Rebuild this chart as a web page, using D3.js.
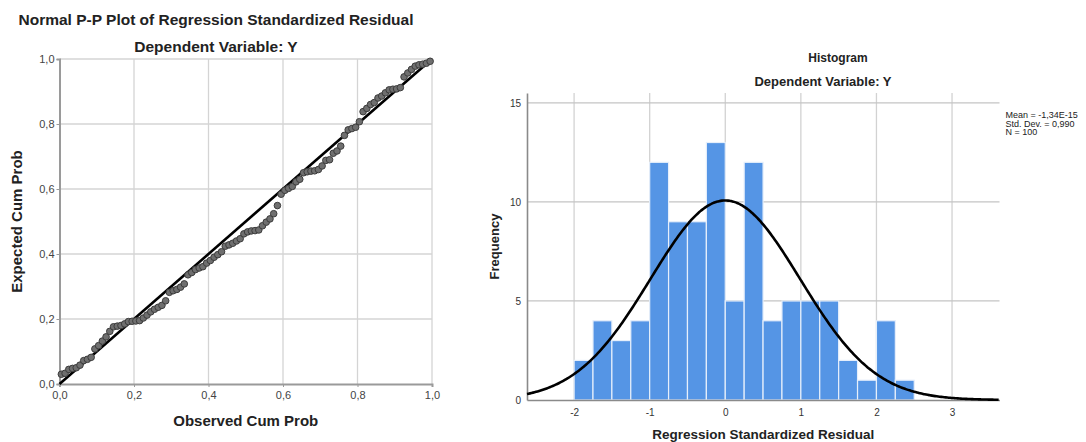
<!DOCTYPE html>
<html>
<head>
<meta charset="utf-8">
<script src="https://cdn.jsdelivr.net/npm/d3@7"></script>
<style>
html,body{margin:0;padding:0;background:#fff;}
svg{display:block;font-family:"Liberation Sans",Arial,sans-serif;}
</style>
</head>
<body>
<svg id="chart" width="1086" height="442"></svg>
<script>
// ---------- P-P plot data ----------
const ppTitle = "Normal P-P Plot of Regression Standardized Residual";
const ppSubtitle = "Dependent Variable: Y";
const ppXLabel = "Observed Cum Prob";
const ppYLabel = "Expected Cum Prob";
const ppTicks = [0, 0.2, 0.4, 0.6, 0.8, 1.0];
const ppTickLabels = ["0,0", "0,2", "0,4", "0,6", "0,8", "1,0"];
const observedCumProb = [
  0.005,0.015,0.025,0.035,0.045,0.055,0.065,0.075,0.085,0.095,
  0.105,0.115,0.125,0.135,0.145,0.155,0.165,0.175,0.185,0.195,
  0.205,0.215,0.225,0.235,0.245,0.255,0.265,0.275,0.285,0.295,
  0.305,0.315,0.325,0.335,0.345,0.355,0.365,0.375,0.385,0.395,
  0.405,0.415,0.425,0.435,0.445,0.455,0.465,0.475,0.485,0.495,
  0.505,0.515,0.525,0.535,0.545,0.555,0.565,0.575,0.585,0.595,
  0.605,0.615,0.625,0.635,0.645,0.655,0.665,0.675,0.685,0.695,
  0.705,0.715,0.725,0.735,0.745,0.755,0.765,0.775,0.785,0.795,
  0.805,0.815,0.825,0.835,0.845,0.855,0.865,0.875,0.885,0.895,
  0.905,0.915,0.925,0.935,0.945,0.955,0.965,0.975,0.985,0.995
];
const expectedCumProb = [
  0.030,0.033,0.045,0.048,0.050,0.058,0.072,0.076,0.082,0.108,
  0.118,0.132,0.145,0.162,0.176,0.178,0.180,0.185,0.192,0.193,
  0.194,0.195,0.203,0.212,0.222,0.230,0.236,0.242,0.256,0.282,
  0.287,0.291,0.298,0.308,0.336,0.343,0.352,0.357,0.361,0.372,
  0.380,0.390,0.398,0.407,0.424,0.428,0.433,0.440,0.447,0.462,
  0.468,0.471,0.472,0.474,0.487,0.498,0.508,0.524,0.549,0.584,
  0.596,0.602,0.608,0.622,0.630,0.650,0.653,0.655,0.656,0.660,
  0.671,0.688,0.690,0.710,0.717,0.732,0.765,0.782,0.786,0.790,
  0.807,0.838,0.848,0.860,0.866,0.880,0.886,0.896,0.905,0.907,
  0.908,0.912,0.945,0.957,0.968,0.978,0.982,0.984,0.987,0.993
];
const refLine = [0, 1];

// ---------- Histogram data ----------
const histTitle = "Histogram";
const histSubtitle = "Dependent Variable: Y";
const histXLabel = "Regression Standardized Residual";
const histYLabel = "Frequency";
const binStarts = [-2,-1.75,-1.5,-1.25,-1,-0.75,-0.5,-0.25,0,0.25,0.5,0.75,1,1.25,1.5,1.75,2,2.25];
const binCounts = [2,4,3,4,12,9,9,13,5,12,4,5,5,5,2,1,4,1];
const binWidth = 0.25;
const histXTicks = [-2,-1,0,1,2,3];
const histYTicks = [0,5,10,15];
const statMean = -1.34e-15;
const statSD = 0.990;
const statN = 100;
const legendLines = ["Mean = -1,34E-15", "Std. Dev. = 0,990", "N = 100"];

const svg = d3.select("#chart");

// ================= P-P PLOT =================
const pp = {left: 59.5, right: 432, top: 59, bottom: 384};
const px = d3.scaleLinear().domain([0, 1]).range([pp.left, pp.right]);
const py = d3.scaleLinear().domain([0, 1]).range([pp.bottom, pp.top]);
const gp = svg.append("g");

// grid
gp.selectAll(".vg").data(ppTicks.filter(d => d > 0)).enter().append("line")
  .attr("x1", d => px(d)).attr("x2", d => px(d))
  .attr("y1", pp.top).attr("y2", pp.bottom)
  .attr("stroke", "#d4d4d4").attr("stroke-width", 1.3);
gp.selectAll(".hg").data(ppTicks.filter(d => d > 0)).enter().append("line")
  .attr("x1", pp.left).attr("x2", pp.right)
  .attr("y1", d => py(d)).attr("y2", d => py(d))
  .attr("stroke", "#d4d4d4").attr("stroke-width", 1.3);

// axes
const ppXAxis = d3.axisBottom(px).tickValues(ppTicks).tickFormat((d, i) => ppTickLabels[i]).tickSize(3).tickPadding(4);
const ppYAxis = d3.axisLeft(py).tickValues(ppTicks).tickFormat((d, i) => ppTickLabels[i]).tickSize(3).tickPadding(2);
const gx = gp.append("g").attr("transform", `translate(0,${pp.bottom})`).call(ppXAxis);
const gy = gp.append("g").attr("transform", `translate(${pp.left},0)`).call(ppYAxis);
[gx, gy].forEach(g => {
  g.select(".domain").attr("stroke", "#9a9a9a").attr("stroke-width", 2);
  g.selectAll(".tick line").attr("stroke", "#9a9a9a");
  g.selectAll("text").attr("font-size", 11).attr("fill", "#444")
    .attr("font-family", "'Liberation Sans',Arial,sans-serif");
});

// reference line
gp.append("line")
  .attr("x1", px(refLine[0])).attr("y1", py(refLine[0]))
  .attr("x2", px(refLine[1])).attr("y2", py(refLine[1]))
  .attr("stroke", "#000").attr("stroke-width", 2.6);

// points
gp.selectAll(".pt").data(observedCumProb).enter().append("circle")
  .attr("cx", d => px(d))
  .attr("cy", (d, i) => py(expectedCumProb[i]))
  .attr("r", 3.3)
  .attr("fill", "#6f6f6f").attr("stroke", "#3c3c3c").attr("stroke-width", 1);

// titles
gp.append("text").attr("x", 216).attr("y", 24.5).attr("text-anchor", "middle")
  .attr("font-size", 15.5).attr("font-weight", "bold").attr("fill", "#222").text(ppTitle);
gp.append("text").attr("x", 216).attr("y", 52).attr("text-anchor", "middle")
  .attr("font-size", 15.5).attr("font-weight", "bold").attr("fill", "#222").text(ppSubtitle);
gp.append("text").attr("x", (pp.left + pp.right) / 2).attr("y", 426).attr("text-anchor", "middle")
  .attr("font-size", 15).attr("font-weight", "bold").attr("fill", "#222").text(ppXLabel);
gp.append("text").attr("transform", `translate(22,${(pp.top + pp.bottom) / 2}) rotate(-90)`)
  .attr("text-anchor", "middle")
  .attr("font-size", 15).attr("font-weight", "bold").attr("fill", "#222").text(ppYLabel);

// ================= HISTOGRAM =================
const hp = {left: 527, right: 999.5, top: 93, bottom: 400};
const hx = d3.scaleLinear().domain([-2.623, 3.628]).range([hp.left, hp.right]);
const hy = d3.scaleLinear().domain([0, 15.5]).range([hp.bottom, hp.top]);
const gh = svg.append("g");

// grid
gh.selectAll(".hvg").data(histXTicks).enter().append("line")
  .attr("x1", d => hx(d)).attr("x2", d => hx(d))
  .attr("y1", hp.top).attr("y2", hp.bottom)
  .attr("stroke", "#d2d2d2").attr("stroke-width", 1.3);
gh.selectAll(".hhg").data(histYTicks.filter(d => d > 0)).enter().append("line")
  .attr("x1", hp.left).attr("x2", hp.right)
  .attr("y1", d => hy(d)).attr("y2", d => hy(d))
  .attr("stroke", "#c4c4c4").attr("stroke-width", 1.3);

// bars
gh.selectAll(".bar").data(binStarts).enter().append("rect")
  .attr("x", d => hx(d))
  .attr("width", d => hx(d + binWidth) - hx(d))
  .attr("y", (d, i) => hy(binCounts[i]))
  .attr("height", (d, i) => hy(0) - hy(binCounts[i]))
  .attr("fill", "#5595e5").attr("stroke", "#e6effb").attr("stroke-width", 1.2);

// axes
const hXAxis = d3.axisBottom(hx).tickValues(histXTicks).tickFormat(d => d).tickSize(0).tickPadding(9);
const hYAxis = d3.axisLeft(hy).tickValues(histYTicks).tickFormat(d => d).tickSize(0).tickPadding(6);
const hgx = gh.append("g").attr("transform", `translate(0,${hp.bottom})`).call(hXAxis);
const hgy = gh.append("g").attr("transform", `translate(${hp.left},0)`).call(hYAxis);
[hgx, hgy].forEach(g => {
  g.select(".domain").attr("stroke", "#8a8a8a").attr("stroke-width", 1.6);
  g.selectAll("text").attr("font-size", 10).attr("fill", "#333")
    .attr("font-family", "'Liberation Sans',Arial,sans-serif");
});

// normal curve
const curveXs = d3.range(hx.domain()[0], hx.domain()[1] + 0.001, 0.02);
const normalY = x => statN * binWidth * Math.exp(-0.5 * Math.pow((x - statMean) / statSD, 2)) / (statSD * Math.sqrt(2 * Math.PI));
gh.append("path")
  .datum(curveXs)
  .attr("d", d3.line().x(d => hx(d)).y(d => hy(normalY(d))).curve(d3.curveBasis))
  .attr("fill", "none").attr("stroke", "#000").attr("stroke-width", 2.6);

// titles
gh.append("text").attr("x", 838).attr("y", 62).attr("text-anchor", "middle")
  .attr("font-size", 12).attr("font-weight", "bold").attr("fill", "#222").text(histTitle);
gh.append("text").attr("x", 823).attr("y", 86).attr("text-anchor", "middle")
  .attr("font-size", 13).attr("font-weight", "bold").attr("fill", "#222").text(histSubtitle);
gh.append("text").attr("x", (hp.left + hp.right) / 2).attr("y", 438.5).attr("text-anchor", "middle")
  .attr("font-size", 13.5).attr("font-weight", "bold").attr("fill", "#222").text(histXLabel);
gh.append("text").attr("transform", `translate(499,${(hp.top + hp.bottom) / 2}) rotate(-90)`)
  .attr("text-anchor", "middle")
  .attr("font-size", 13).attr("font-weight", "bold").attr("fill", "#222").text(histYLabel);

// legend
gh.selectAll(".leg").data(legendLines).enter().append("text")
  .attr("x", 1005.5).attr("y", (d, i) => 118 + i * 8.6)
  .attr("font-size", 9).attr("fill", "#222").text(d => d);
</script>
</body>
</html>
